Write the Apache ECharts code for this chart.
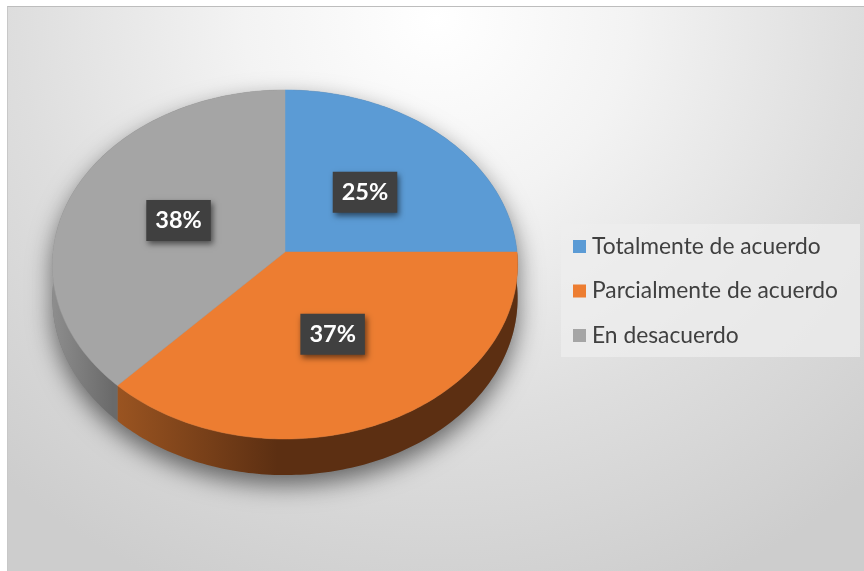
<!DOCTYPE html>
<html>
<head>
<meta charset="utf-8" />
<title></title>
<script src="https://cdn.jsdelivr.net/npm/echarts@6/dist/echarts.min.js"></script>
<style>
html, body { margin: 0; padding: 0; background: #fff; }
#frame {
  position: absolute; left: 7px; top: 6px; width: 857px; height: 565px;
  border-top: 1px solid #bdbdbd; border-left: 1px solid #c8c8c8;
  background: radial-gradient(ellipse 75% 110% at 50% 2%, #ffffff 0%, #f3f3f3 30%, #dedede 65%, #cdcdcd 100%);
}
#main { position: absolute; left: 0; top: 0; width: 864px; height: 571px; }
</style>
</head>
<body>
<div id="frame"></div>
<div id="main"></div>
<script type="text/javascript">
/* datos */
var categories = ['Totalmente de acuerdo', 'Parcialmente de acuerdo', 'En desacuerdo'];
var values = [25, 37, 38];
var colors = ['#5B9BD5', '#ED7D31', '#A5A5A5'];

/* geometria del pastel 3D (perspectiva) */
var CX = 285, CY = 252, RX = 232, RY = 173.6, P = 0.0716, DEPTH = 33.5;

var total = values.reduce(function (a, b) { return a + b; }, 0);
var starts = [];
var acc = 0;
for (var i = 0; i < values.length; i++) { starts.push(acc / total * 360); acc += values[i]; }

function proj(deg, r, dz) {
  var t = deg * Math.PI / 180;
  var u = r * Math.sin(t), v = -r * Math.cos(t);
  var s = 1 / (1 - P * v);
  return [CX + RX * u * s, CY + RY * v * s + (dz || 0) * s];
}
function arc(a, b, r, dz) {
  var pts = [];
  var n = Math.max(2, Math.ceil(Math.abs(b - a)));
  for (var k = 0; k <= n; k++) pts.push(proj(a + (b - a) * k / n, r, dz));
  return pts;
}
function sidePoints(a, b) {
  var top = arc(a, b, 1, 0);
  var bottom = arc(b, a, 1, DEPTH);
  return top.concat(bottom);
}

/* caras superiores, una serie por categoria para la leyenda */
function topSeries(idx) {
  return {
    type: 'custom',
    name: categories[idx],
    coordinateSystem: 'none',
    z: 3,
    silent: true,
    itemStyle: { color: colors[idx] },
    data: [[values[idx]]],
    renderItem: function (params, api) {
      var a0 = starts[idx];
      var a1 = a0 + api.value(0) / total * 360;
      var pts = [proj(0, 0, 0)].concat(arc(a0, a1, 1, 0));
      var mid = (a0 + a1) / 2;
      var lp = proj(mid, 0.5, 0);
      var pct = Math.round(api.value(0) / total * 100) + '%';
      return {
        type: 'group',
        children: [
          { type: 'polygon', shape: { points: pts }, style: { fill: colors[idx], stroke: colors[idx], lineWidth: 0.5 } },
          {
            type: 'text', x: lp[0], y: lp[1], z2: 10,
            style: {
              text: pct, fill: '#ffffff', font: 'bold 23.5px Lato',
              align: 'center', verticalAlign: 'middle',
              backgroundColor: '#404040', padding: [9, 9, 8, 9],
              shadowBlur: 6, shadowColor: 'rgba(0,0,0,0.55)', shadowOffsetX: 2, shadowOffsetY: 3
            }
          }
        ]
      };
    }
  };
}

var sideColors = [
  ['#3f6d96', '#2f5270'],
  ['#9a5421', '#5c2f12'],
  ['#8d8d8d', '#6a6a6a']
];

var option = {
  animation: false,
  color: colors,
  legend: {
    data: categories,
    orient: 'vertical',
    left: 561, top: 224,
    padding: [11, 22, 10, 12],
    itemWidth: 13, itemHeight: 13,
    itemGap: 21.5,
    icon: 'rect',
    backgroundColor: 'rgba(238,238,238,0.75)',
    selectedMode: false,
    textStyle: { fontFamily: 'Lato', fontSize: 22.8, color: '#404040', padding: [0, 0, 0, 1] }
  },
  series: [
    {
      /* sombra y base */
      type: 'custom',
      name: 'base',
      coordinateSystem: 'none',
      z: 1,
      silent: true,
      data: [[0]],
      renderItem: function () {
        return {
          type: 'polygon',
          shape: { points: arc(0, 360, 1, 0).concat(arc(90, 270, 1, DEPTH)) },
          style: { fill: '#777', shadowBlur: 24, shadowColor: 'rgba(0,0,0,0.55)', shadowOffsetY: 10 }
        };
      }
    },
    {
      /* paredes laterales */
      type: 'custom',
      name: 'lados',
      coordinateSystem: 'none',
      z: 2,
      silent: true,
      data: values.map(function (v, i) { return [i, v]; }),
      renderItem: function (params, api) {
        var idx = api.value(0);
        var a0 = starts[idx];
        var a1 = a0 + api.value(1) / total * 360;
        var a = Math.max(a0, 90), b = Math.min(a1, 270);
        if (b <= a) return null;
        var pa = proj(b, 1, 0), pb = proj(a, 1, 0);
        return {
          type: 'polygon',
          shape: { points: sidePoints(a, b) },
          style: {
            fill: {
              type: 'linear', global: true,
              x: Math.min(pa[0], pb[0]), y: 0, x2: Math.min(pa[0], pb[0]) + (idx === 1 ? 160 : 60), y2: 0,
              colorStops: [{ offset: 0, color: sideColors[idx][0] }, { offset: 1, color: sideColors[idx][1] }]
            }
          }
        };
      }
    },
    topSeries(0),
    topSeries(1),
    topSeries(2)
  ]
};

var chart = echarts.init(document.getElementById('main'), null, { renderer: 'canvas' });
chart.setOption(option);
window.onresize = chart.resize;
</script>
</body>
</html>
